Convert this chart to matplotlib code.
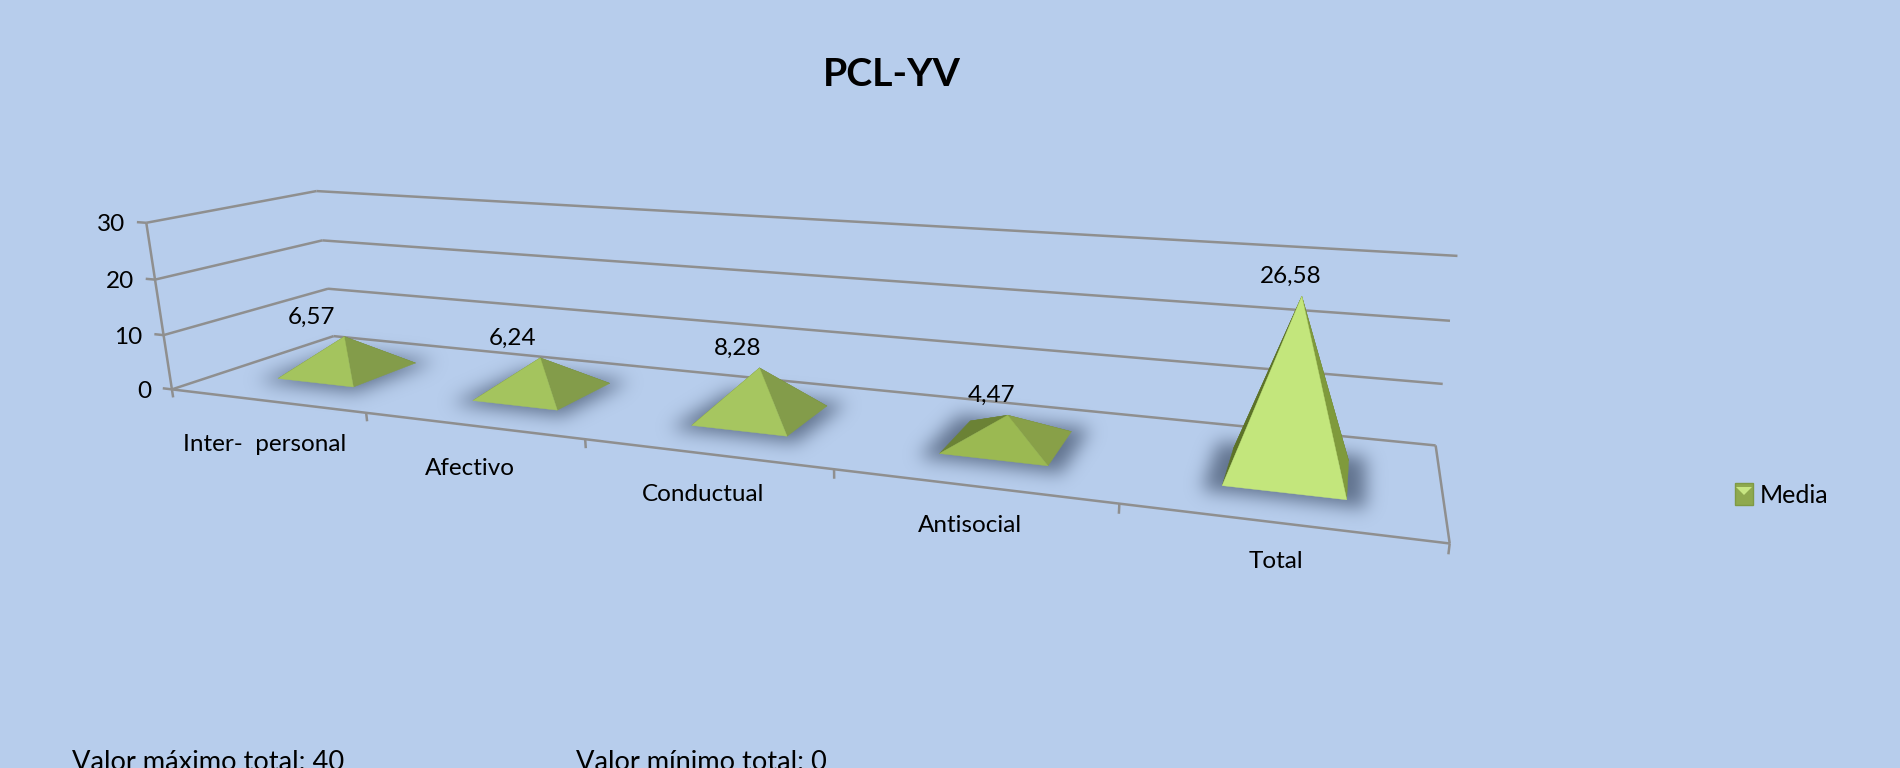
import numpy as np
import matplotlib
matplotlib.use("Agg")
import matplotlib.pyplot as plt
from matplotlib.patches import Polygon, Patch
from matplotlib.path import Path

# ---- data ----
categories = ["Inter-  personal", "Afectivo", "Conductual", "Antisocial", "Total"]
media = [6.57, 6.24, 8.28, 4.47, 26.58]
y_ticks = [0, 10, 20, 30]
series_name = "Media"
title = "PCL-YV"
note_max = "Valor máximo total: 40"
note_min = "Valor mínimo total: 0"

# ---- style ----
BG = "#B7CDEC"
GRID = "#8F8F8F"
FRONT = ["#A4C45E", "#A4C45E", "#A6C660", "#9BB952", "#C3E67C"]
RIGHT = ["#839C4A", "#839C4A", "#839C4A", "#88A048", "#7F9A3C"]
LEFT = ["#6B8235", "#6B8235", "#6B8235", "#6B8235", "#5C7228"]
FONT = "Lato"
K = 1900 / 1568

# Camera calibration: box corners (category, depth, value) -> image location
calib = [
    ((0, 0, 0), (143, 321)), ((0, 0, 10), (135, 275)), ((0, 0, 20), (128, 230)), ((0, 0, 30), (120, 184)),
    ((0, 1, 0), (275, 278)), ((0, 1, 10), (270, 238)), ((0, 1, 20), (266, 198)), ((0, 1, 30), (262, 158)),
    ((5, 1, 0), (1184, 366)), ((5, 1, 10), (1192, 317)), ((5, 1, 20), (1197, 265)), ((5, 1, 30), (1202, 212)),
    ((5, 0, 0), (1197, 447)), ((1, 0, 0), (302, 342)), ((2, 0, 0), (483, 364)),
    ((3, 0, 0), (688, 388)), ((4, 0, 0), (923, 416)),
]
A = []
for (X, D, V), (u, v) in calib:
    u, v = u * K, v * K
    A.append([X, D, V, 1, 0, 0, 0, 0, -u * X, -u * D, -u * V, -u])
    A.append([0, 0, 0, 0, X, D, V, 1, -v * X, -v * D, -v * V, -v])
P = np.linalg.svd(np.array(A, float))[2][-1].reshape(3, 4)


def proj(X, D, V):
    h = P @ np.array([X, D, V, 1.0])
    return (h[0] / h[2], h[1] / h[2])


fig = plt.figure(figsize=(19, 7.68), dpi=100, facecolor=BG)
ax = fig.add_axes([0, 0, 1, 1])
ax.set_facecolor(BG)
ax.axis("off")


def line(a, b, lw=1.8, z=2):
    pa, pb = proj(*a), proj(*b)
    ax.plot([pa[0], pb[0]], [pa[1], pb[1]], color=GRID, lw=lw, zorder=z, solid_capstyle="butt")


n = len(categories)
vtop = y_ticks[-1]
for t in y_ticks:
    line((0, 0, t), (0, 1, t))
    line((0, 1, t), (n, 1, t))
    line((-0.05, 0, t), (0, 0, t))
    x0, y0 = proj(0, 0, t)
    ax.annotate(str(t), (x0, y0), xytext=(-21, -2), textcoords="offset pixels", ha="right", va="center",
                fontsize=17.5, family=FONT, color="black")
line((0, 0, 0), (0, 0, vtop))
line((0, 0, 0), (n, 0, 0))
line((n, 0, 0), (n, 1, 0))
for c in range(n + 1):
    line((c, 0, 0), (c, 0, -1.5))

HW, HD = 0.2, 0.21

# blurred shadows
H, W = 768, 1900
yy, xx = np.mgrid[0:H, 0:W]
pts = np.c_[xx.ravel() + 0.5, yy.ravel() + 0.5]
mask = np.zeros((H, W))
for c in range(n):
    cx = c + 0.5
    base = [proj(cx - HW * 1.3, 0.5 - HD * 1.3, 0), proj(cx + HW * 1.3, 0.5 - HD * 1.3, 0),
            proj(cx + HW * 1.3, 0.5 + HD * 1.3, 0), proj(cx - HW * 1.3, 0.5 + HD * 1.3, 0)]
    mask[Path(base).contains_points(pts).reshape(H, W)] = 1.0
g = np.arange(-27, 28)
ker = np.exp(-g ** 2 / (2 * 9.0 ** 2))
ker /= ker.sum()
mask = np.apply_along_axis(lambda r: np.convolve(r, ker, mode="same"), 0, mask)
mask = np.apply_along_axis(lambda r: np.convolve(r, ker, mode="same"), 1, mask)
rgba = np.zeros((H, W, 4))
rgba[..., :3] = matplotlib.colors.to_rgb("#52637E")
rgba[..., 3] = mask * 0.85
ax.imshow(rgba, extent=(0, W, H, 0), zorder=3, interpolation="nearest", aspect="auto")

# pyramids
for c, v in enumerate(media):
    cx = c + 0.5
    fl = proj(cx - HW, 0.5 - HD, 0)
    fr = proj(cx + HW, 0.5 - HD, 0)
    br = proj(cx + HW, 0.5 + HD, 0)
    bl = proj(cx - HW, 0.5 + HD, 0)
    ap = proj(cx, 0.5, v)
    for face, col in (((bl, br, ap), LEFT[c]), ((fl, bl, ap), LEFT[c]), ((fr, br, ap), RIGHT[c]), ((fl, fr, ap), FRONT[c])):
        ax.add_patch(Polygon(face, closed=True, facecolor=col, edgecolor=col, lw=0.3, zorder=4))
    ax.annotate(f"{v:.2f}".replace(".", ","), ap, xytext=((-27 + 4.5 * c) * K, 16 * K), textcoords="offset pixels",
                ha="center", va="center", fontsize=17.5, family=FONT, color="black", zorder=6)
    fx, fy = proj(cx, 0, 0)
    ax.annotate(categories[c], (fx, fy), xytext=(-2, -44 + 1.4 * c), textcoords="offset pixels", ha="center", va="center",
                fontsize=17.5, family=FONT, color="black", zorder=6)

ax.text(892, 75, title, ha="center", va="center", fontsize=28.3, fontweight="bold", family=FONT, color="black")
ax.text(72, 762, note_max, ha="left", va="center", fontsize=19.6, family=FONT, color="black")
ax.text(576, 762, note_min, ha="left", va="center", fontsize=19.6, family=FONT, color="black")

ax.set_xlim(0, W)
ax.set_ylim(H, 0)

# legend
leg = ax.legend(handles=[Patch(facecolor="#8FA94E", edgecolor="#7F9A44", label=series_name)],
                loc="center left", bbox_to_anchor=(1735 / W, 1 - 495 / H), bbox_transform=ax.transAxes,
                frameon=False, handlelength=0.7, handleheight=0.95, handletextpad=0.3,
                borderpad=0, borderaxespad=0, prop={"family": FONT, "size": 18})
ax.add_patch(Polygon([(1736, 487), (1752, 487), (1744, 495)], closed=True, facecolor="#C8E682", edgecolor="none", zorder=7))

fig.savefig("out.png", dpi=100, facecolor=BG)
